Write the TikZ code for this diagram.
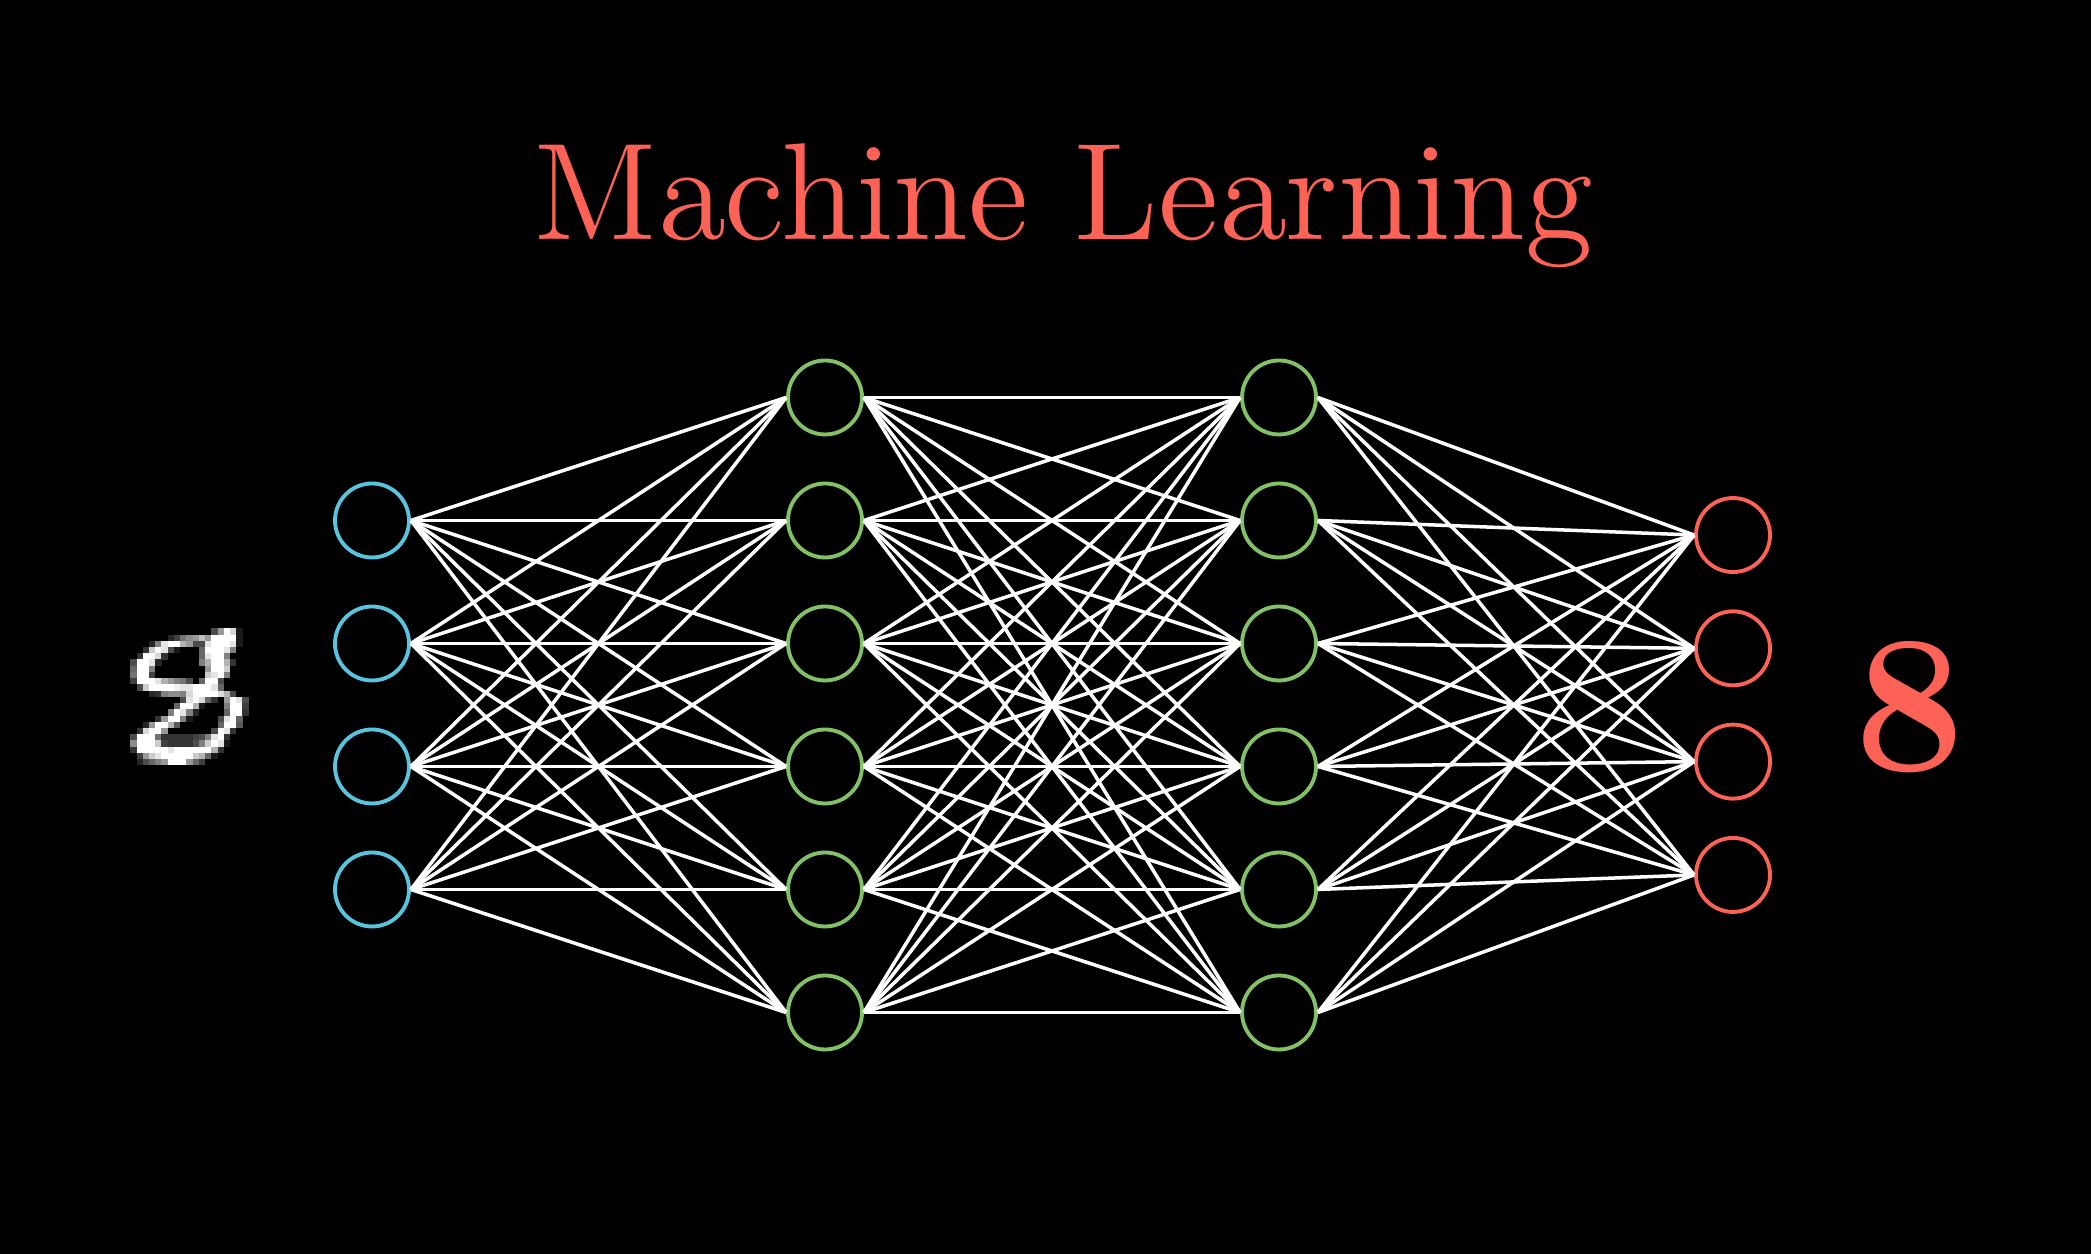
\documentclass[tikz,border=0pt]{standalone}
\usetikzlibrary{positioning}
\definecolor{mlred}{HTML}{FC6255}
\definecolor{mlblue}{HTML}{58C4DD}
\definecolor{mlgreen}{HTML}{83C167}
\font\mltitlefont=cmr12 at 39.3pt

\begin{document}
\begin{tikzpicture}[neuron/.style={circle,draw,line width=1.1pt,minimum size=0.74cm,inner sep=0pt},
 edge/.style={white,line width=1pt}]
\fill[black](0,0)rectangle(20.91,12.54);
\useasboundingbox(0,0)rectangle(20.91,12.54);
\node[mlred,anchor=base,font=\mltitlefont](title) at (10.64,10.14){Machine Learning};
% layers
\foreach \k in {1,...,4}
 \node[neuron,mlblue](i\k) at (3.72,{5.49+(2.5-\k)*1.23}){};
\foreach \k in {1,...,6}{
 \node[neuron,mlgreen](a\k) at (8.25,{5.49+(3.5-\k)*1.23}){};
 \node[neuron,mlgreen](b\k) at (12.79,{5.49+(3.5-\k)*1.23}){};}
\foreach \k in {1,...,4}
 \node[neuron,mlred](o\k) at (17.33,{5.49+(2.5-\k)*1.133}){};
% weights
\foreach \i in {1,...,4}\foreach \j in {1,...,6}\draw[edge](i\i.east)--(a\j.west);
\foreach \i in {1,...,6}\foreach \j in {1,...,6}\draw[edge](a\i.east)--(b\j.west);
\foreach \i in {1,...,6}\foreach \j in {1,...,4}\draw[edge](b\i.east)--(o\j.west);
% handwritten input digit, pixel by pixel
\foreach \r/\cells in {
 0/{13/30,14/60,15/100,16/85,17/10},
 1/{6/15,7/25,8/45,9/55,10/60,11/75,12/60,13/100,14/100,15/100,16/100,17/10},
 2/{3/15,4/50,5/90,6/100,7/100,8/70,9/60,10/30,11/30,12/90,13/100,14/100,15/100,16/90,17/10},
 3/{2/20,3/80,4/100,5/90,6/30,7/10,11/40,12/100,13/100,14/100,15/90,16/50},
 4/{1/20,2/100,3/100,4/85,5/20,11/40,12/90,13/100,14/100,15/50},
 5/{0/30,1/100,2/100,3/90,4/15,11/50,12/70,13/100,14/100,15/70,16/20},
 6/{0/40,1/100,2/100,3/50,12/60,13/100,14/100,15/80},
 7/{0/45,1/100,2/100,3/25,12/80,13/90,14/100,15/50},
 8/{0/25,1/100,2/100,3/100,4/90,5/70,6/60,7/50,8/45,9/30,11/40,12/100,13/100,14/30},
 9/{1/30,2/80,3/100,4/100,5/100,6/100,7/95,8/90,9/90,10/100,11/100,12/100,13/90,14/40},
 10/{3/15,4/20,5/50,6/55,7/55,8/50,9/85,10/100,11/100,12/100,13/100,14/85,15/70,16/30},
 11/{8/30,9/90,10/100,11/85,12/40,13/20,15/60,16/100,17/90,18/30},
 12/{7/40,8/100,9/100,10/70,11/10,15/50,16/100,17/100,18/25},
 13/{6/50,7/100,8/90,9/50,10/15,15/40,16/100,17/100,18/20},
 14/{4/20,5/60,6/100,7/100,8/50,9/10,14/30,15/90,16/100,17/40},
 15/{2/15,3/60,4/100,5/100,6/70,7/35,14/40,15/100,16/100,17/35},
 16/{1/20,2/85,3/100,4/100,5/60,13/30,14/100,15/90,16/20},
 17/{0/30,1/100,2/100,3/100,4/45,5/20,6/20,7/20,8/20,9/20,10/25,11/30,12/50,13/90,14/100,15/20},
 18/{0/55,1/100,2/100,3/100,4/80,5/25,6/20,7/20,8/20,9/20,10/30,11/50,12/80,13/100,14/90,15/10},
 19/{0/20,1/100,2/100,3/100,4/100,5/100,6/90,7/100,8/100,9/100,10/100,11/100,12/100,13/70,14/20},
 20/{1/25,2/60,3/80,4/90,5/100,6/100,7/100,8/100,9/100,10/80,11/70,12/40,13/10},
 21/{1/15,2/30,3/40,4/50,5/60,6/100,7/100,8/100,9/60,10/40,11/25}}
 \foreach \c/\v in \cells
  \fill[white!\v!black]({1.303+0.0623*\c},{6.257-0.0623*\r})rectangle +(0.0635,-0.0635);
% prediction
\node[mlred,font=\fontsize{56}{60}\selectfont\bfseries](pred) at (19.10,5.47){8};
\end{tikzpicture}
\end{document}
